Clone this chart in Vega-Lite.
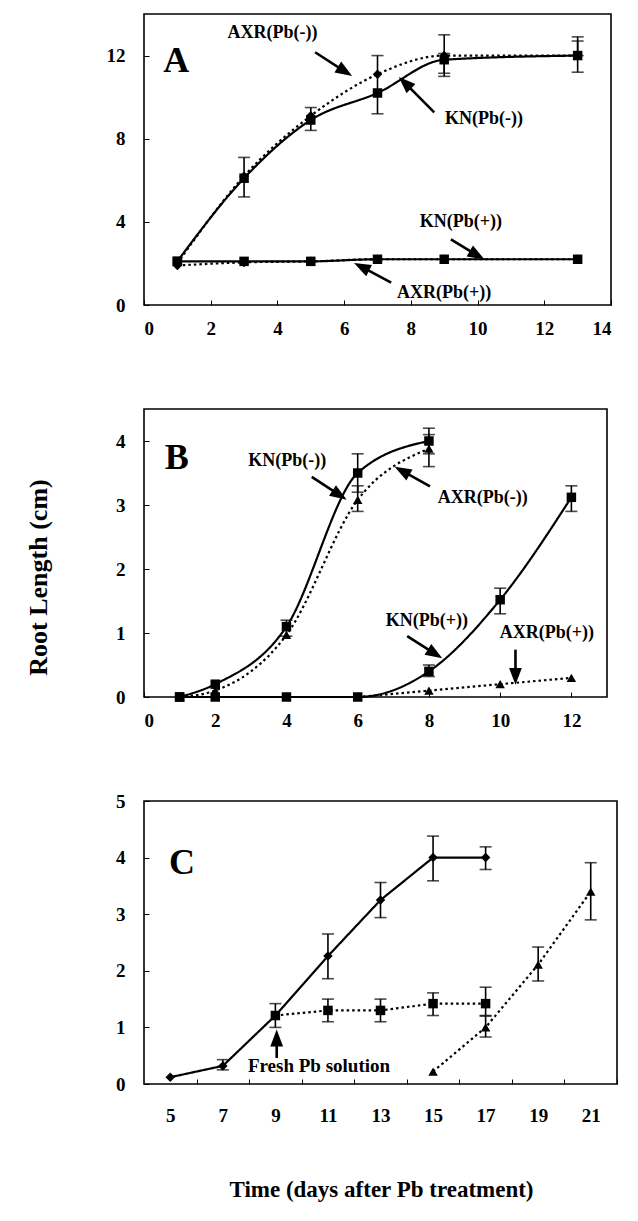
{
  "$schema": "https://vega.github.io/schema/vega-lite/v6.json",
  "padding": {"left": 24, "top": 13, "right": 4, "bottom": 5},
  "bounds": "flush",
  "spacing": 104,
  "background": "white",
  "config": {
    "font": "Liberation Serif",
    "view": {"stroke": "black", "strokeWidth": 1.6},
    "axis": {
      "domain": false, "grid": false, "ticks": true, "tickSize": -5, "tickColor": "black", "tickWidth": 1,
      "labelFont": "Liberation Serif", "labelFontWeight": "bold", "labelFontSize": 19, "labelColor": "black",
      "titleFont": "Liberation Serif", "titleFontWeight": "bold", "titleFontSize": 26, "titleColor": "black"
    },
    "axisX": {"labelPadding": 19},
    "axisY": {"labelPadding": 24}
  },
  "resolve": {"scale": {"x": "independent", "y": "independent", "shape": "independent", "strokeDash": "independent"}},
  "datasets": {
    "pts": [
      {"panel": "A", "series": "KN(Pb(-))", "x": 1, "y": 2.1},
      {"panel": "A", "series": "KN(Pb(-))", "x": 3, "y": 6.1},
      {"panel": "A", "series": "KN(Pb(-))", "x": 5, "y": 8.9},
      {"panel": "A", "series": "KN(Pb(-))", "x": 7, "y": 10.2},
      {"panel": "A", "series": "KN(Pb(-))", "x": 9, "y": 11.8},
      {"panel": "A", "series": "KN(Pb(-))", "x": 13, "y": 12.0},
      {"panel": "A", "series": "AXR(Pb(-))", "x": 1, "y": 2.0},
      {"panel": "A", "series": "AXR(Pb(-))", "x": 3, "y": 6.2},
      {"panel": "A", "series": "AXR(Pb(-))", "x": 5, "y": 9.1},
      {"panel": "A", "series": "AXR(Pb(-))", "x": 7, "y": 11.1},
      {"panel": "A", "series": "AXR(Pb(-))", "x": 9, "y": 12.0},
      {"panel": "A", "series": "AXR(Pb(-))", "x": 13, "y": 12.0},
      {"panel": "A", "series": "KN(Pb(+))", "x": 1, "y": 2.1},
      {"panel": "A", "series": "KN(Pb(+))", "x": 3, "y": 2.1},
      {"panel": "A", "series": "KN(Pb(+))", "x": 5, "y": 2.1},
      {"panel": "A", "series": "KN(Pb(+))", "x": 7, "y": 2.2},
      {"panel": "A", "series": "KN(Pb(+))", "x": 9, "y": 2.2},
      {"panel": "A", "series": "KN(Pb(+))", "x": 13, "y": 2.2},
      {"panel": "A", "series": "AXR(Pb(+))", "x": 1, "y": 1.9},
      {"panel": "A", "series": "AXR(Pb(+))", "x": 3, "y": 2.05},
      {"panel": "A", "series": "AXR(Pb(+))", "x": 5, "y": 2.1},
      {"panel": "A", "series": "AXR(Pb(+))", "x": 7, "y": 2.2},
      {"panel": "A", "series": "AXR(Pb(+))", "x": 9, "y": 2.2},
      {"panel": "A", "series": "AXR(Pb(+))", "x": 13, "y": 2.2},

      {"panel": "B", "series": "KN(Pb(-))", "x": 1, "y": 0},
      {"panel": "B", "series": "KN(Pb(-))", "x": 2, "y": 0.2},
      {"panel": "B", "series": "KN(Pb(-))", "x": 4, "y": 1.1},
      {"panel": "B", "series": "KN(Pb(-))", "x": 6, "y": 3.5},
      {"panel": "B", "series": "KN(Pb(-))", "x": 8, "y": 4.0},
      {"panel": "B", "series": "AXR(Pb(-))", "x": 1, "y": 0},
      {"panel": "B", "series": "AXR(Pb(-))", "x": 2, "y": 0.1},
      {"panel": "B", "series": "AXR(Pb(-))", "x": 4, "y": 0.97},
      {"panel": "B", "series": "AXR(Pb(-))", "x": 6, "y": 3.08},
      {"panel": "B", "series": "AXR(Pb(-))", "x": 8, "y": 3.88},
      {"panel": "B", "series": "KN(Pb(+))", "x": 1, "y": 0},
      {"panel": "B", "series": "KN(Pb(+))", "x": 2, "y": 0},
      {"panel": "B", "series": "KN(Pb(+))", "x": 4, "y": 0},
      {"panel": "B", "series": "KN(Pb(+))", "x": 6, "y": 0},
      {"panel": "B", "series": "KN(Pb(+))", "x": 8, "y": 0.4},
      {"panel": "B", "series": "KN(Pb(+))", "x": 10, "y": 1.52},
      {"panel": "B", "series": "KN(Pb(+))", "x": 12, "y": 3.12},
      {"panel": "B", "series": "AXR(Pb(+))", "x": 6, "y": 0},
      {"panel": "B", "series": "AXR(Pb(+))", "x": 8, "y": 0.1},
      {"panel": "B", "series": "AXR(Pb(+))", "x": 10, "y": 0.2},
      {"panel": "B", "series": "AXR(Pb(+))", "x": 12, "y": 0.3},

      {"panel": "C", "series": "C1", "x": 5, "y": 0.12},
      {"panel": "C", "series": "C1", "x": 7, "y": 0.32},
      {"panel": "C", "series": "C1", "x": 9, "y": 1.21},
      {"panel": "C", "series": "C1", "x": 11, "y": 2.26},
      {"panel": "C", "series": "C1", "x": 13, "y": 3.25},
      {"panel": "C", "series": "C1", "x": 15, "y": 4.0},
      {"panel": "C", "series": "C1", "x": 17, "y": 4.0},
      {"panel": "C", "series": "C2", "x": 9, "y": 1.21},
      {"panel": "C", "series": "C2", "x": 11, "y": 1.3},
      {"panel": "C", "series": "C2", "x": 13, "y": 1.3},
      {"panel": "C", "series": "C2", "x": 15, "y": 1.42},
      {"panel": "C", "series": "C2", "x": 17, "y": 1.42},
      {"panel": "C", "series": "C3", "x": 15, "y": 0.22},
      {"panel": "C", "series": "C3", "x": 17, "y": 1.0},
      {"panel": "C", "series": "C3", "x": 19, "y": 2.11},
      {"panel": "C", "series": "C3", "x": 21, "y": 3.4}
    ],
    "err": [
      {"panel": "A", "x": 3, "lo": 5.2, "hi": 7.1},
      {"panel": "A", "x": 5, "lo": 8.4, "hi": 9.5},
      {"panel": "A", "x": 7, "lo": 9.2, "hi": 12.0},
      {"panel": "A", "x": 9, "lo": 11.0, "hi": 13.0},
      {"panel": "A", "x": 9, "lo": 11.15, "hi": 12.1},
      {"panel": "A", "x": 13, "lo": 11.2, "hi": 12.9},
      {"panel": "A", "x": 13, "lo": 12.0, "hi": 12.7},
      {"panel": "B", "x": 4, "lo": 0.95, "hi": 1.2},
      {"panel": "B", "x": 6, "lo": 3.2, "hi": 3.8},
      {"panel": "B", "x": 8, "lo": 3.8, "hi": 4.2},
      {"panel": "B", "x": 6, "lo": 2.9, "hi": 3.3},
      {"panel": "B", "x": 8, "lo": 3.6, "hi": 4.1},
      {"panel": "B", "x": 8, "lo": 0.32, "hi": 0.5},
      {"panel": "B", "x": 10, "lo": 1.3, "hi": 1.7},
      {"panel": "B", "x": 12, "lo": 2.9, "hi": 3.3},
      {"panel": "C", "x": 7, "lo": 0.25, "hi": 0.43},
      {"panel": "C", "x": 9, "lo": 1.0, "hi": 1.42},
      {"panel": "C", "x": 11, "lo": 1.86, "hi": 2.65},
      {"panel": "C", "x": 13, "lo": 2.94, "hi": 3.56},
      {"panel": "C", "x": 15, "lo": 3.59, "hi": 4.38},
      {"panel": "C", "x": 17, "lo": 3.79, "hi": 4.19},
      {"panel": "C", "x": 11, "lo": 1.1, "hi": 1.5},
      {"panel": "C", "x": 13, "lo": 1.1, "hi": 1.5},
      {"panel": "C", "x": 15, "lo": 1.21, "hi": 1.61},
      {"panel": "C", "x": 17, "lo": 1.21, "hi": 1.71},
      {"panel": "C", "x": 17, "lo": 0.83, "hi": 1.2},
      {"panel": "C", "x": 19, "lo": 1.82, "hi": 2.42},
      {"panel": "C", "x": 21, "lo": 2.9, "hi": 3.91}
    ],
    "notes": [
      {"panel": "A", "text": "AXR(Pb(-))", "x": 3.85, "y": 13.1},
      {"panel": "A", "text": "KN(Pb(-))", "x": 10.19, "y": 8.95},
      {"panel": "A", "text": "KN(Pb(+))", "x": 9.5, "y": 3.97},
      {"panel": "A", "text": "AXR(Pb(+))", "x": 9.0, "y": 0.6},
      {"panel": "B", "text": "KN(Pb(-))", "x": 4.02, "y": 3.68},
      {"panel": "B", "text": "AXR(Pb(-))", "x": 9.51, "y": 3.11},
      {"panel": "B", "text": "KN(Pb(+))", "x": 7.94, "y": 1.18},
      {"panel": "B", "text": "AXR(Pb(+))", "x": 11.31, "y": 1.0}
    ],
    "fresh": [
      {"panel": "C", "text": "Fresh Pb solution", "x": 10.66, "y": 0.32}
    ],
    "letters": [
      {"panel": "A", "text": "A", "x": 0.97, "y": 11.76},
      {"panel": "B", "text": "B", "x": 0.92, "y": 3.73},
      {"panel": "C", "text": "C", "x": 5.45, "y": 3.91}
    ],
    "arrows": [
      {"panel": "A", "x": 5.13, "y": 12.16, "x2": 5.98, "y2": 11.28, "angle": 122},
      {"panel": "A", "x": 8.7, "y": 9.27, "x2": 7.86, "y2": 10.63, "angle": 314},
      {"panel": "A", "x": 9.2, "y": 3.16, "x2": 9.94, "y2": 2.44, "angle": 120},
      {"panel": "A", "x": 7.41, "y": 1.08, "x2": 6.57, "y2": 1.8, "angle": 297},
      {"panel": "B", "x": 4.71, "y": 3.44, "x2": 5.45, "y2": 3.17, "angle": 123},
      {"panel": "B", "x": 8.03, "y": 3.29, "x2": 7.29, "y2": 3.52, "angle": 299},
      {"panel": "B", "x": 7.39, "y": 0.95, "x2": 8.13, "y2": 0.69, "angle": 122},
      {"panel": "B", "x": 10.43, "y": 0.74, "x2": 10.43, "y2": 0.35, "angle": 180},
      {"panel": "C", "x": 9.05, "y": 0.46, "x2": 9.05, "y2": 0.78, "angle": 0}
    ]
  },
  "vconcat": [
    {
      "width": 467, "height": 291,
      "encoding": {
        "x": {"type": "quantitative", "scale": {"domain": [0, 14], "nice": false}, "axis": {"values": [0, 2, 4, 6, 8, 10, 12, 14], "title": null}},
        "y": {"type": "quantitative", "scale": {"domain": [0, 14], "nice": false}, "axis": {"values": [0, 4, 8, 12], "title": null}}
      },
      "layer": [
        {
          "data": {"name": "pts"}, "transform": [{"filter": "datum.panel === 'A'"}],
          "mark": {"type": "line", "color": "black", "strokeWidth": 2.2, "interpolate": "monotone"},
          "encoding": {
            "x": {"field": "x", "type": "quantitative"}, "y": {"field": "y", "type": "quantitative"},
            "detail": {"field": "series"},
            "strokeDash": {"field": "series", "type": "nominal", "legend": null,
              "scale": {"domain": ["KN(Pb(-))", "AXR(Pb(-))", "KN(Pb(+))", "AXR(Pb(+))"], "range": [[1, 0], [2.5, 3], [1, 0], [2.5, 3]]}}
          }
        },
        {
          "data": {"name": "pts"}, "transform": [{"filter": "datum.panel === 'A'"}],
          "mark": {"type": "point", "filled": true, "color": "black", "opacity": 1, "size": 90},
          "encoding": {
            "x": {"field": "x", "type": "quantitative"}, "y": {"field": "y", "type": "quantitative"},
            "shape": {"field": "series", "type": "nominal", "legend": null,
              "scale": {"domain": ["KN(Pb(-))", "AXR(Pb(-))", "KN(Pb(+))", "AXR(Pb(+))"], "range": ["square", "diamond", "square", "diamond"]}}
          }
        },
        {
          "data": {"name": "err"}, "transform": [{"filter": "datum.panel === 'A'"}],
          "mark": {"type": "errorbar", "color": "black", "thickness": 1.6, "ticks": {"size": 12, "thickness": 1.6, "color": "black"}},
          "encoding": {"x": {"field": "x", "type": "quantitative"}, "y": {"field": "lo", "type": "quantitative"}, "y2": {"field": "hi"}}
        },
        {
          "data": {"name": "arrows"}, "transform": [{"filter": "datum.panel === 'A'"}],
          "mark": {"type": "rule", "color": "black", "strokeWidth": 2.6},
          "encoding": {"x": {"field": "x", "type": "quantitative"}, "y": {"field": "y", "type": "quantitative"}, "x2": {"field": "x2"}, "y2": {"field": "y2"}}
        },
        {
          "data": {"name": "arrows"}, "transform": [{"filter": "datum.panel === 'A'"}],
          "mark": {"type": "point", "shape": "M0,-1L0.62,0.65L-0.62,0.65Z", "filled": true, "color": "black", "opacity": 1, "size": 420},
          "encoding": {"x": {"field": "x2", "type": "quantitative"}, "y": {"field": "y2", "type": "quantitative"}, "angle": {"field": "angle", "type": "quantitative", "scale": null}}
        },
        {
          "data": {"name": "notes"}, "transform": [{"filter": "datum.panel === 'A'"}],
          "mark": {"type": "text", "font": "Liberation Serif", "fontWeight": "bold", "fontSize": 18, "color": "black"},
          "encoding": {"x": {"field": "x", "type": "quantitative"}, "y": {"field": "y", "type": "quantitative"}, "text": {"field": "text"}}
        },
        {
          "data": {"name": "letters"}, "transform": [{"filter": "datum.panel === 'A'"}],
          "mark": {"type": "text", "font": "Liberation Serif", "fontWeight": "bold", "fontSize": 36, "color": "black"},
          "encoding": {"x": {"field": "x", "type": "quantitative"}, "y": {"field": "y", "type": "quantitative"}, "text": {"field": "text"}}
        }
      ]
    },
    {
      "width": 463, "height": 288,
      "encoding": {
        "x": {"type": "quantitative", "scale": {"domain": [0, 13], "nice": false}, "axis": {"values": [0, 2, 4, 6, 8, 10, 12], "title": null}},
        "y": {"type": "quantitative", "scale": {"domain": [0, 4.5], "nice": false}, "axis": {"values": [0, 1, 2, 3, 4], "title": "Root Length (cm)", "titleX": -93, "titleY": 168}}
      },
      "layer": [
        {
          "data": {"name": "pts"}, "transform": [{"filter": "datum.panel === 'B'"}],
          "mark": {"type": "line", "color": "black", "strokeWidth": 2.2, "interpolate": "monotone"},
          "encoding": {
            "x": {"field": "x", "type": "quantitative"}, "y": {"field": "y", "type": "quantitative"},
            "detail": {"field": "series"},
            "strokeDash": {"field": "series", "type": "nominal", "legend": null,
              "scale": {"domain": ["KN(Pb(-))", "AXR(Pb(-))", "KN(Pb(+))", "AXR(Pb(+))"], "range": [[1, 0], [2.5, 3], [1, 0], [2.5, 3]]}}
          }
        },
        {
          "data": {"name": "pts"}, "transform": [{"filter": "datum.panel === 'B'"}],
          "mark": {"type": "point", "filled": true, "color": "black", "opacity": 1, "size": 90},
          "encoding": {
            "x": {"field": "x", "type": "quantitative"}, "y": {"field": "y", "type": "quantitative"},
            "shape": {"field": "series", "type": "nominal", "legend": null,
              "scale": {"domain": ["KN(Pb(-))", "AXR(Pb(-))", "KN(Pb(+))", "AXR(Pb(+))"], "range": ["square", "triangle-up", "square", "triangle-up"]}}
          }
        },
        {
          "data": {"name": "err"}, "transform": [{"filter": "datum.panel === 'B'"}],
          "mark": {"type": "errorbar", "color": "black", "thickness": 1.6, "ticks": {"size": 12, "thickness": 1.6, "color": "black"}},
          "encoding": {"x": {"field": "x", "type": "quantitative"}, "y": {"field": "lo", "type": "quantitative"}, "y2": {"field": "hi"}}
        },
        {
          "data": {"name": "arrows"}, "transform": [{"filter": "datum.panel === 'B'"}],
          "mark": {"type": "rule", "color": "black", "strokeWidth": 2.6},
          "encoding": {"x": {"field": "x", "type": "quantitative"}, "y": {"field": "y", "type": "quantitative"}, "x2": {"field": "x2"}, "y2": {"field": "y2"}}
        },
        {
          "data": {"name": "arrows"}, "transform": [{"filter": "datum.panel === 'B'"}],
          "mark": {"type": "point", "shape": "M0,-1L0.62,0.65L-0.62,0.65Z", "filled": true, "color": "black", "opacity": 1, "size": 420},
          "encoding": {"x": {"field": "x2", "type": "quantitative"}, "y": {"field": "y2", "type": "quantitative"}, "angle": {"field": "angle", "type": "quantitative", "scale": null}}
        },
        {
          "data": {"name": "notes"}, "transform": [{"filter": "datum.panel === 'B'"}],
          "mark": {"type": "text", "font": "Liberation Serif", "fontWeight": "bold", "fontSize": 18, "color": "black"},
          "encoding": {"x": {"field": "x", "type": "quantitative"}, "y": {"field": "y", "type": "quantitative"}, "text": {"field": "text"}}
        },
        {
          "data": {"name": "letters"}, "transform": [{"filter": "datum.panel === 'B'"}],
          "mark": {"type": "text", "font": "Liberation Serif", "fontWeight": "bold", "fontSize": 36, "color": "black"},
          "encoding": {"x": {"field": "x", "type": "quantitative"}, "y": {"field": "y", "type": "quantitative"}, "text": {"field": "text"}}
        }
      ]
    },
    {
      "width": 473, "height": 283,
      "encoding": {
        "x": {"type": "quantitative", "scale": {"domain": [4, 22], "nice": false},
              "axis": {"values": [5, 7, 9, 11, 13, 15, 17, 19, 21], "tickOffset": 26.28, "labelOffset": -26.28, "labelPadding": 27,
                       "title": "Time (days after Pb treatment)", "titleFontSize": 23, "titleX": 237, "titleY": 94}},
        "y": {"type": "quantitative", "scale": {"domain": [0, 5], "nice": false}, "axis": {"values": [0, 1, 2, 3, 4, 5], "title": null}}
      },
      "layer": [
        {
          "data": {"name": "pts"}, "transform": [{"filter": "datum.panel === 'C'"}],
          "mark": {"type": "line", "color": "black", "strokeWidth": 2.2},
          "encoding": {
            "x": {"field": "x", "type": "quantitative"}, "y": {"field": "y", "type": "quantitative"},
            "detail": {"field": "series"},
            "strokeDash": {"field": "series", "type": "nominal", "legend": null,
              "scale": {"domain": ["C1", "C2", "C3"], "range": [[1, 0], [2.5, 3], [2.5, 3]]}}
          }
        },
        {
          "data": {"name": "pts"}, "transform": [{"filter": "datum.panel === 'C'"}],
          "mark": {"type": "point", "filled": true, "color": "black", "opacity": 1, "size": 90},
          "encoding": {
            "x": {"field": "x", "type": "quantitative"}, "y": {"field": "y", "type": "quantitative"},
            "shape": {"field": "series", "type": "nominal", "legend": null,
              "scale": {"domain": ["C1", "C2", "C3"], "range": ["diamond", "square", "triangle-up"]}}
          }
        },
        {
          "data": {"name": "err"}, "transform": [{"filter": "datum.panel === 'C'"}],
          "mark": {"type": "errorbar", "color": "black", "thickness": 1.6, "ticks": {"size": 12, "thickness": 1.6, "color": "black"}},
          "encoding": {"x": {"field": "x", "type": "quantitative"}, "y": {"field": "lo", "type": "quantitative"}, "y2": {"field": "hi"}}
        },
        {
          "data": {"name": "arrows"}, "transform": [{"filter": "datum.panel === 'C'"}],
          "mark": {"type": "rule", "color": "black", "strokeWidth": 2.6},
          "encoding": {"x": {"field": "x", "type": "quantitative"}, "y": {"field": "y", "type": "quantitative"}, "x2": {"field": "x2"}, "y2": {"field": "y2"}}
        },
        {
          "data": {"name": "arrows"}, "transform": [{"filter": "datum.panel === 'C'"}],
          "mark": {"type": "point", "shape": "M0,-1L0.62,0.65L-0.62,0.65Z", "filled": true, "color": "black", "opacity": 1, "size": 420},
          "encoding": {"x": {"field": "x2", "type": "quantitative"}, "y": {"field": "y2", "type": "quantitative"}, "angle": {"field": "angle", "type": "quantitative", "scale": null}}
        },
        {
          "data": {"name": "fresh"},
          "mark": {"type": "text", "font": "Liberation Serif", "fontWeight": "bold", "fontSize": 19, "color": "black"},
          "encoding": {"x": {"field": "x", "type": "quantitative"}, "y": {"field": "y", "type": "quantitative"}, "text": {"field": "text"}}
        },
        {
          "data": {"name": "letters"}, "transform": [{"filter": "datum.panel === 'C'"}],
          "mark": {"type": "text", "font": "Liberation Serif", "fontWeight": "bold", "fontSize": 36, "color": "black"},
          "encoding": {"x": {"field": "x", "type": "quantitative"}, "y": {"field": "y", "type": "quantitative"}, "text": {"field": "text"}}
        }
      ]
    }
  ]
}
